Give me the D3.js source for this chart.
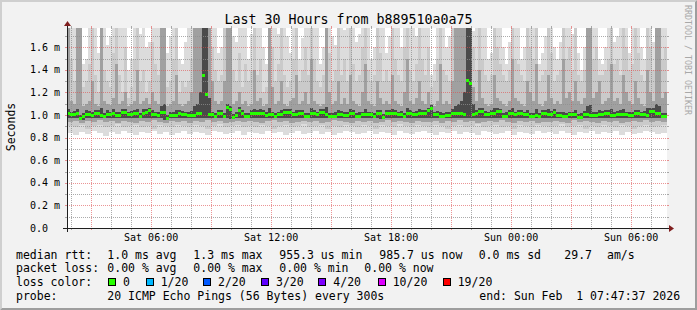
<!DOCTYPE html>
<html>
<head>
<meta charset="utf-8">
<script src="https://cdn.jsdelivr.net/npm/d3@7"></script>
<style>
  html, body { margin: 0; padding: 0; background: #fff; }
  svg text { font-family: "DejaVu Sans Mono", monospace; white-space: pre; }
</style>
</head>
<body>
<div id="chart"></div>
<script>
// ---- chart data (values in ms) ----
const titleText = "Last 30 Hours from b889510a0a75";
const yLabel = "Seconds";
const endTime = new Date(Date.UTC(2026, 1, 1, 7, 47, 37));
const spanHours = 30;
const colStep = 540;   // seconds per column (upper smoke + median)
const lowStep = 1080;  // seconds per column (lower smoke)

const median = [
  1.02,1.005,1.005,1.02,0.975,0.99,1.01,1.01,1.0,1.015,
  1.015,1.0,0.995,1.01,1.01,1.02,1.0,1.0,1.025,1.025,
  1.005,1.005,1.015,1.015,0.995,1.02,1.03,1.04,1.01,1.01,
  1.0,1.03,1.03,0.97,1.0,1.0,1.0,1.015,1.01,1.01,
  1.0,1.0,1.0,1.02,1.02,1.35,1.19,1.005,1.005,0.995,
  1.015,1.015,0.995,1.07,1.05,0.985,1.0,1.045,1.02,0.995,
  0.995,1.02,1.02,1.02,1.02,1.02,1.0,1.005,1.005,0.995,
  1.005,1.005,1.025,1.025,1.025,1.005,1.005,1.02,1.02,0.995,
  0.995,1.015,1.015,1.005,1.025,1.025,1.01,0.995,0.995,0.995,
  1.01,1.01,1.0,1.0,1.02,1.02,0.995,0.995,1.005,1.005,
  1.005,1.005,0.995,1.015,1.015,0.985,1.015,1.015,1.015,1.015,
  1.005,1.005,0.995,1.02,1.02,1.005,1.005,1.02,1.02,1.02,
  1.04,1.06,1.005,1.005,0.995,0.995,1.0,1.0,1.02,1.02,
  1.02,1.02,1.005,1.31,1.285,1.005,1.02,1.035,1.035,1.01,
  1.01,1.02,1.02,1.035,1.035,0.995,0.995,1.015,1.015,1.005,
  1.015,1.015,1.005,1.005,0.995,0.995,1.0,0.995,1.015,1.015,
  1.01,1.01,1.025,1.0,1.0,0.99,0.99,1.005,1.005,1.005,
  0.985,0.985,1.01,1.01,1.0,1.0,1.0,1.01,1.01,1.02,
  1.02,1.0,1.0,1.01,1.01,1.005,1.005,1.0,1.0,1.015,
  1.015,1.005,1.005,1.0,1.035,1.035,1.015,1.015,0.995,0.995
];

// upper edges of the smoke layers (lightest -> darkest)
const hi1 = [
  1.8,1.8,1.8,1.8,1.8,1.45,1.5,1.8,1.8,1.8,
  1.55,1.8,1.8,1.62,1.7,1.8,1.8,1.8,1.8,1.8,
  1.4,1.5,1.8,1.8,1.72,1.8,1.6,1.65,1.8,1.8,
  1.8,1.8,1.8,1.55,1.7,1.8,1.8,1.5,1.45,1.65,
  1.8,1.8,1.8,1.8,1.8,1.8,1.8,1.8,1.8,1.8,
  1.55,1.6,1.8,1.8,1.8,1.7,1.65,1.8,1.8,1.8,
  1.5,1.72,1.8,1.8,1.8,1.6,1.45,1.8,1.8,1.8,
  1.72,1.8,1.8,1.7,1.55,1.8,1.8,1.5,1.68,1.8,
  1.8,1.8,1.8,1.8,1.45,1.6,1.8,1.8,1.7,1.62,
  1.8,1.8,1.75,1.8,1.8,1.8,1.65,1.72,1.8,1.8,
  1.8,1.5,1.6,1.8,1.8,1.8,1.55,1.7,1.8,1.8,
  1.8,1.6,1.8,1.8,1.8,1.8,1.7,1.8,1.8,1.8,
  1.8,1.35,1.45,1.8,1.8,1.8,1.6,1.7,1.8,1.8,
  1.8,1.8,1.8,1.8,1.8,1.74,1.8,1.8,1.8,1.8,
  1.5,1.55,1.8,1.8,1.8,1.6,1.45,1.65,1.8,1.8,
  1.8,1.5,1.6,1.8,1.8,1.8,1.8,1.45,1.55,1.7,
  1.8,1.8,1.6,1.5,1.65,1.8,1.8,1.8,1.72,1.8,
  1.55,1.4,1.6,1.8,1.8,1.8,1.8,1.5,1.45,1.6,
  1.8,1.8,1.65,1.7,1.8,1.8,1.8,1.55,1.8,1.8,
  1.8,1.6,1.5,1.8,1.8,1.65,1.8,1.8,1.8,1.8
];
const hi2 = [
  1.8,1.5,1.3,1.8,1.8,1.25,1.3,1.45,1.8,1.35,
  1.2,1.8,1.4,1.3,1.25,1.55,1.8,1.35,1.2,1.6,
  1.15,1.25,1.5,1.8,1.3,1.4,1.2,1.3,1.65,1.45,
  1.35,1.8,1.8,1.25,1.3,1.5,1.8,1.2,1.3,1.25,
  1.3,1.5,1.8,1.8,1.8,1.8,1.8,1.8,1.6,1.4,
  1.3,1.35,1.8,1.8,1.8,1.4,1.3,1.55,1.25,1.45,
  1.3,1.4,1.8,1.35,1.5,1.2,1.25,1.8,1.6,1.3,
  1.45,1.8,1.35,1.25,1.3,1.5,1.8,1.3,1.4,1.6,
  1.35,1.8,1.5,1.3,1.25,1.35,1.8,1.55,1.3,1.4,
  1.8,1.35,1.5,1.3,1.8,1.45,1.3,1.35,1.6,1.8,
  1.4,1.3,1.35,1.8,1.55,1.3,1.4,1.3,1.8,1.5,
  1.35,1.3,1.6,1.8,1.4,1.3,1.45,1.8,1.5,1.35,
  1.6,1.25,1.3,1.5,1.8,1.4,1.35,1.3,1.8,1.8,
  1.8,1.8,1.8,1.8,1.8,1.6,1.4,1.8,1.5,1.35,
  1.3,1.35,1.8,1.6,1.45,1.35,1.3,1.4,1.8,1.5,
  1.45,1.35,1.3,1.8,1.6,1.5,1.8,1.3,1.35,1.4,
  1.8,1.55,1.3,1.35,1.4,1.8,1.5,1.6,1.4,1.8,
  1.35,1.3,1.4,1.8,1.8,1.5,1.6,1.35,1.35,1.4,
  1.5,1.8,1.45,1.5,1.35,1.8,1.6,1.4,1.45,1.8,
  1.55,1.35,1.3,1.8,1.6,1.4,1.8,1.8,1.5,1.6
];
const hi3 = [
  1.8,1.12,1.1,1.8,1.8,1.08,1.1,1.12,1.3,1.1,
  1.08,1.8,1.12,1.1,1.09,1.15,1.45,1.1,1.12,1.2,
  1.08,1.1,1.12,1.4,1.1,1.12,1.15,1.1,1.2,1.12,
  1.1,1.8,1.8,1.08,1.1,1.12,1.35,1.1,1.08,1.1,
  1.12,1.2,1.8,1.8,1.8,1.8,1.8,1.8,1.3,1.12,
  1.1,1.12,1.3,1.8,1.8,1.1,1.12,1.2,1.1,1.12,
  1.08,1.1,1.4,1.12,1.15,1.08,1.1,1.8,1.25,1.1,
  1.12,1.3,1.1,1.08,1.12,1.15,1.35,1.1,1.12,1.2,
  1.1,1.5,1.12,1.1,1.08,1.1,1.8,1.2,1.1,1.12,
  1.3,1.1,1.15,1.1,1.35,1.12,1.1,1.08,1.2,1.45,
  1.12,1.1,1.08,1.3,1.15,1.1,1.12,1.1,1.35,1.12,
  1.1,1.08,1.2,1.5,1.12,1.1,1.15,1.3,1.12,1.1,
  1.2,1.1,1.08,1.12,1.45,1.1,1.12,1.1,1.3,1.8,
  1.8,1.8,1.8,1.8,1.8,1.25,1.12,1.4,1.15,1.1,
  1.08,1.1,1.35,1.15,1.12,1.1,1.08,1.12,1.5,1.15,
  1.12,1.1,1.08,1.3,1.2,1.12,1.45,1.1,1.08,1.12,
  1.35,1.15,1.1,1.12,1.1,1.5,1.15,1.2,1.12,1.3,
  1.12,1.1,1.15,1.8,1.8,1.15,1.2,1.3,1.1,1.12,
  1.15,1.45,1.12,1.15,1.1,1.35,1.2,1.12,1.1,1.3,
  1.15,1.1,1.08,1.4,1.2,1.12,1.8,1.8,1.15,1.2
];
const hi4 = [
  1.05,1.03,1.035,1.05,1.0,1.02,1.04,1.035,1.03,1.04,
  1.04,1.06,1.02,1.04,1.03,1.05,1.03,1.03,1.05,1.05,
  1.03,1.035,1.04,1.05,1.02,1.05,1.055,1.065,1.04,1.03,
  1.03,1.08,1.1,1.0,1.03,1.025,1.04,1.04,1.035,1.03,
  1.03,1.035,1.08,1.1,1.2,1.8,1.8,1.15,1.03,1.02,
  1.04,1.045,1.02,1.1,1.08,1.01,1.03,1.07,1.045,1.02,
  1.02,1.045,1.05,1.04,1.05,1.04,1.03,1.06,1.03,1.02,
  1.03,1.04,1.05,1.05,1.055,1.03,1.04,1.045,1.04,1.02,
  1.02,1.06,1.04,1.03,1.05,1.055,1.07,1.02,1.02,1.025,
  1.04,1.035,1.025,1.03,1.05,1.045,1.02,1.025,1.03,1.05,
  1.03,1.03,1.02,1.04,1.04,1.01,1.04,1.04,1.05,1.04,
  1.03,1.035,1.02,1.06,1.045,1.03,1.035,1.05,1.045,1.04,
  1.065,1.085,1.03,1.035,1.03,1.02,1.025,1.03,1.05,1.08,
  1.1,1.12,1.2,1.8,1.8,1.1,1.045,1.06,1.06,1.035,
  1.03,1.045,1.06,1.06,1.055,1.02,1.025,1.04,1.06,1.03,
  1.04,1.045,1.03,1.04,1.02,1.02,1.05,1.02,1.04,1.045,
  1.05,1.035,1.05,1.025,1.03,1.03,1.015,1.03,1.03,1.04,
  1.01,1.015,1.035,1.08,1.09,1.03,1.025,1.04,1.035,1.045,
  1.045,1.05,1.025,1.035,1.04,1.05,1.03,1.025,1.03,1.04,
  1.04,1.03,1.035,1.06,1.06,1.065,1.1,1.08,1.02,1.02
];

// lower edges of the smoke layers (coarser columns)
const lo1 = [
  0.84,0.82,0.85,0.83,0.86,0.84,0.81,0.85,0.83,0.86,
  0.84,0.82,0.85,0.84,0.86,0.83,0.85,0.82,0.84,0.86,
  0.83,0.85,0.84,0.82,0.86,0.85,0.83,0.84,0.86,0.82,
  0.85,0.84,0.83,0.86,0.84,0.85,0.82,0.84,0.86,0.83,
  0.84,0.86,0.83,0.85,0.82,0.84,0.86,0.85,0.83,0.84,
  0.86,0.83,0.85,0.84,0.82,0.86,0.84,0.83,0.85,0.86,
  0.84,0.82,0.85,0.84,0.86,0.83,0.85,0.84,0.82,0.86,
  0.85,0.83,0.84,0.86,0.82,0.85,0.84,0.83,0.86,0.84,
  0.85,0.83,0.86,0.84,0.82,0.85,0.84,0.86,0.83,0.85,
  0.84,0.86,0.82,0.85,0.83,0.84,0.86,0.85,0.83,0.84
];
const lo2 = [
  0.9,0.89,0.91,0.88,0.9,0.91,0.89,0.9,0.92,0.89,
  0.9,0.91,0.89,0.9,0.88,0.91,0.9,0.89,0.91,0.9,
  0.89,0.91,0.9,0.88,0.9,0.92,0.89,0.9,0.91,0.89,
  0.9,0.89,0.91,0.9,0.88,0.9,0.91,0.89,0.9,0.92,
  0.89,0.9,0.91,0.88,0.9,0.89,0.91,0.9,0.89,0.91,
  0.9,0.88,0.91,0.9,0.89,0.92,0.9,0.89,0.91,0.9,
  0.89,0.91,0.9,0.88,0.9,0.91,0.89,0.9,0.92,0.89,
  0.9,0.91,0.89,0.9,0.88,0.91,0.9,0.89,0.91,0.9,
  0.89,0.9,0.92,0.89,0.9,0.91,0.88,0.9,0.89,0.91,
  0.9,0.89,0.91,0.9,0.88,0.9,0.91,0.89,0.9,0.91
];
const lo3 = [
  0.94,0.95,0.93,0.95,0.94,0.96,0.94,0.95,0.93,0.95,
  0.94,0.93,0.95,0.94,0.96,0.94,0.93,0.95,0.94,0.95,
  0.93,0.95,0.94,0.96,0.94,0.95,0.93,0.94,0.95,0.94,
  0.95,0.94,0.93,0.95,0.96,0.94,0.95,0.93,0.94,0.95,
  0.94,0.95,0.93,0.94,0.96,0.95,0.94,0.93,0.95,0.94,
  0.95,0.93,0.94,0.96,0.94,0.95,0.94,0.93,0.95,0.94,
  0.94,0.95,0.93,0.95,0.94,0.96,0.94,0.95,0.93,0.94,
  0.95,0.94,0.96,0.94,0.93,0.95,0.94,0.95,0.93,0.94,
  0.94,0.95,0.94,0.93,0.96,0.94,0.95,0.94,0.93,0.95,
  0.94,0.95,0.93,0.94,0.95,0.94,0.96,0.94,0.95,0.94
];
const lo4 = [
  0.975,0.97,0.955,0.975,0.97,0.975,0.97,0.975,0.97,0.975,
  0.97,0.975,0.97,0.975,0.97,0.975,0.955,0.97,0.975,0.97,
  0.975,0.97,0.975,0.97,0.975,0.97,0.975,0.965,0.975,0.97,
  0.975,0.97,0.975,0.97,0.975,0.97,0.975,0.97,0.975,0.97,
  0.97,0.975,0.97,0.975,0.97,0.975,0.97,0.975,0.97,0.975,
  0.975,0.97,0.965,0.975,0.97,0.975,0.97,0.975,0.97,0.975,
  0.97,0.975,0.97,0.975,0.97,0.975,0.97,0.975,0.97,0.975,
  0.975,0.97,0.975,0.97,0.975,0.97,0.975,0.97,0.975,0.97,
  0.97,0.975,0.97,0.975,0.97,0.965,0.975,0.97,0.975,0.97,
  0.975,0.97,0.975,0.97,0.975,0.97,0.975,0.97,0.975,0.97
];

const yTicks = [0.2, 0.4, 0.6, 0.8, 1.0, 1.2, 1.4, 1.6];
const yMinorTicks = [0.1, 0.3, 0.5, 0.7, 0.9, 1.1, 1.3, 1.5, 1.7];
const yMax = 1.77;

// legend texts
const rttLabel = "median rtt:";
const rttValues = ["1.0 ms avg", "1.3 ms max", "955.3 us min", "985.7 us now", "0.0 ms sd", "29.7", "am/s"];
const lossLabel = "packet loss:";
const lossValues = ["0.00 % avg", "0.00 % max", "0.00 % min", "0.00 % now"];
const colorLabel = "loss color:";
const lossLevels = ["0", "1/20", "2/20", "3/20", "4/20", "10/20", "19/20"];
const lossColors = ["#26ff00", "#00b8ff", "#0059ff", "#5e00ff", "#7e00ff", "#dd00ff", "#ff0000"];
const probeLabel = "probe:";
const probeText = "20 ICMP Echo Pings (56 Bytes) every 300s";
const endText = "end: Sun Feb  1 07:47:37 2026";
const watermark = "RRDTOOL / TOBI OETIKER";

// ---- layout ----
const W = 697, H = 310;
const plot = { left: 67, top: 28, width: 600, height: 200 };
const rttX = [107.3, 193.3, 279.3, 379.3, 478.7, 564.3, 607];
const lossX = [107.3, 193.3, 279.3, 364.3];
const boxX = [108, 145.7, 203, 261, 318.3, 377.7, 442.7];
const rowY = [258.5, 272, 285.8, 299.5];

const startTime = new Date(+endTime - spanHours * 3600 * 1000);

const x = d3.scaleUtc()
  .domain([startTime, endTime])
  .range([plot.left, plot.left + plot.width]);

const y = d3.scaleLinear()
  .domain([0, yMax])
  .range([plot.top + plot.height, plot.top]);

const svg = d3.select("#chart")
  .append("svg")
    .attr("width", W)
    .attr("height", H);

// background + 3d border
svg.append("rect").attr("width", W).attr("height", H).attr("fill", "#f2f2f2");
svg.append("polygon")
  .attr("points", `0,0 ${W},0 ${W-2},2 2,2 2,${H-2} 0,${H}`)
  .attr("fill", "#cfcfcf");
svg.append("polygon")
  .attr("points", `${W},0 ${W},${H} 0,${H} 2,${H-2} ${W-2},${H-2} ${W-2},2`)
  .attr("fill", "#9e9e9e");

// canvas
svg.append("rect")
  .attr("x", plot.left).attr("y", plot.top)
  .attr("width", plot.width).attr("height", plot.height)
  .attr("fill", "#fff");

svg.append("clipPath").attr("id", "clip")
  .append("rect")
    .attr("x", plot.left).attr("y", plot.top)
    .attr("width", plot.width).attr("height", plot.height);

const colTime = i => new Date(+startTime + i * colStep * 1000);
const lowIndex = i => Math.floor(i * colStep / lowStep);

// smoke
const layers = [
  { hi: hi1, lo: lo1, color: "#dcdcdc" },
  { hi: hi2, lo: lo2, color: "#cacaca" },
  { hi: hi3, lo: lo3, color: "#a0a0a0" },
  { hi: hi4, lo: lo4, color: "#4a4a4a" }
];

const smoke = svg.append("g").attr("clip-path", "url(#clip)").attr("shape-rendering", "crispEdges");
layers.forEach(layer => {
  smoke.append("g")
    .attr("fill", layer.color)
    .selectAll("rect")
    .data(d3.range(median.length))
    .join("rect")
      .attr("x", i => x(colTime(i)))
      .attr("width", i => x(colTime(i + 1)) - x(colTime(i)))
      .attr("y", i => y(Math.min(layer.hi[i], yMax)))
      .attr("height", i => y(layer.lo[lowIndex(i)]) - y(Math.min(layer.hi[i], yMax)));
});

// grid (drawn over the smoke, like rrdtool)
const grid = svg.append("g").attr("shape-rendering", "crispEdges");
const minorCol = "rgba(143,143,143,0.75)";
const majorCol = "rgba(222,79,79,0.6)";
const px = v => Math.round(v) + 0.5;

function hLines(values, color) {
  values.forEach(v => {
    const yy = px(y(v));
    grid.append("line").attr("x1", plot.left).attr("x2", plot.left + plot.width)
      .attr("y1", yy).attr("y2", yy)
      .attr("stroke", color).attr("stroke-dasharray", "1,1");
    grid.append("line").attr("x1", plot.left - 2).attr("x2", plot.left)
      .attr("y1", yy).attr("y2", yy).attr("stroke", color);
    grid.append("line").attr("x1", plot.left + plot.width).attr("x2", plot.left + plot.width + 2)
      .attr("y1", yy).attr("y2", yy).attr("stroke", color);
  });
}
function vLines(times, color) {
  times.forEach(t => {
    const xx = px(x(t));
    grid.append("line").attr("x1", xx).attr("x2", xx)
      .attr("y1", plot.top).attr("y2", plot.top + plot.height)
      .attr("stroke", color).attr("stroke-dasharray", "1,1");
    grid.append("line").attr("x1", xx).attr("x2", xx)
      .attr("y1", plot.top - 2).attr("y2", plot.top).attr("stroke", color);
    grid.append("line").attr("x1", xx).attr("x2", xx)
      .attr("y1", plot.top + plot.height).attr("y2", plot.top + plot.height + 2).attr("stroke", color);
  });
}

const hours = x.ticks(d3.utcHour.every(1));
hLines(yMinorTicks, minorCol);
vLines(hours.filter(t => t.getUTCHours() % 3 !== 0), minorCol);
hLines(yTicks, majorCol);
vLines(hours.filter(t => t.getUTCHours() % 3 === 0), majorCol);

// median, coloured by loss (0 loss -> green)
svg.append("g")
  .attr("clip-path", "url(#clip)")
  .attr("shape-rendering", "crispEdges")
  .attr("fill", lossColors[0])
  .selectAll("rect")
  .data(d3.range(median.length))
  .join("rect")
    .attr("x", i => x(colTime(i)))
    .attr("width", i => x(colTime(i + 1)) - x(colTime(i)))
    .attr("y", i => Math.round(y(median[i])) - 1)
    .attr("height", 3);

// axes
const axisCol = "#1f1f1f", arrowCol = "#801f1f";
const y0 = plot.top + plot.height + 0.5;
svg.append("line").attr("x1", plot.left - 4).attr("x2", plot.left + plot.width + 4)
  .attr("y1", y0).attr("y2", y0).attr("stroke", axisCol);
svg.append("line").attr("x1", plot.left + 0.5).attr("x2", plot.left + 0.5)
  .attr("y1", plot.top + plot.height + 4).attr("y2", plot.top - 4).attr("stroke", axisCol);
svg.append("polygon")
  .attr("points", `${plot.left + plot.width + 2},${y0 - 3.5} ${plot.left + plot.width + 2},${y0 + 3.5} ${plot.left + plot.width + 7},${y0}`)
  .attr("fill", arrowCol);
svg.append("polygon")
  .attr("points", `${plot.left - 3},${plot.top - 2} ${plot.left + 4},${plot.top - 2} ${plot.left + 0.5},${plot.top - 7}`)
  .attr("fill", arrowCol);

// axis labels
const yl = svg.append("g").attr("font-size", "10px").attr("fill", "#000").attr("text-anchor", "end");
[0].concat(yTicks).forEach(v => {
  yl.append("text")
    .attr("x", 60)
    .attr("y", y(v) + 3.6)
    .text(v === 0 ? "0.0  " : d3.format(".1f")(v) + " m");
});

const xl = svg.append("g").attr("font-size", "10px").attr("fill", "#000").attr("text-anchor", "middle");
x.ticks(d3.utcHour.every(6)).forEach(t => {
  xl.append("text")
    .attr("x", x(t))
    .attr("y", 241)
    .text(d3.utcFormat("%a %H:%M")(t));
});

// title + side labels
svg.append("text")
  .attr("x", W / 2).attr("y", 24)
  .attr("text-anchor", "middle")
  .attr("font-size", "13.3px")
  .text(titleText);

svg.append("text")
  .attr("transform", "translate(15,127) rotate(-90)")
  .attr("text-anchor", "middle")
  .attr("font-size", "11.5px")
  .text(yLabel);

svg.append("text")
  .attr("transform", "translate(685,5) rotate(90)")
  .attr("font-size", "8.3px")
  .attr("fill", "#a8a8a8")
  .text(watermark);

// legend
const lg = svg.append("g").attr("font-size", "11.5px").attr("fill", "#000");
lg.append("text").attr("x", 16).attr("y", rowY[0]).text(rttLabel);
rttValues.forEach((s, i) => lg.append("text").attr("x", rttX[i]).attr("y", rowY[0]).text(s));

lg.append("text").attr("x", 16).attr("y", rowY[1]).text(lossLabel);
lossValues.forEach((s, i) => lg.append("text").attr("x", lossX[i]).attr("y", rowY[1]).text(s));

lg.append("text").attr("x", 16).attr("y", rowY[2]).text(colorLabel);
lossLevels.forEach((s, i) => {
  lg.append("rect")
    .attr("x", Math.round(boxX[i]) + 0.5).attr("y", 278.5)
    .attr("width", 7).attr("height", 7)
    .attr("fill", lossColors[i]).attr("stroke", "#000");
  lg.append("text").attr("x", boxX[i] + 15).attr("y", rowY[2]).text(s);
});

lg.append("text").attr("x", 16).attr("y", rowY[3]).text(probeLabel);
lg.append("text").attr("x", lossX[0]).attr("y", rowY[3]).text(probeText);
lg.append("text").attr("x", 479.3).attr("y", rowY[3]).text(endText);
</script>
</body>
</html>
